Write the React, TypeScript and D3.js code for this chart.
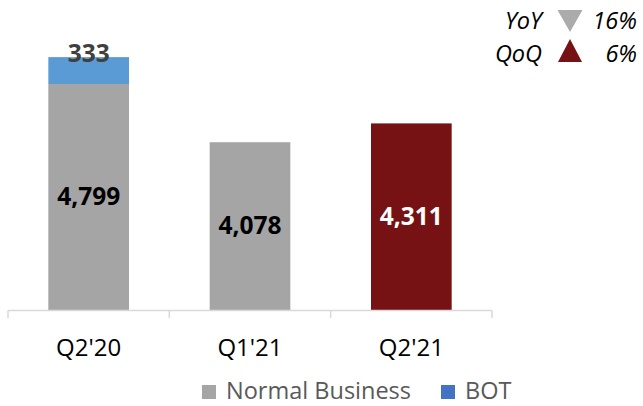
import React from "react";
import * as d3 from "d3";

const categories = ["Q2'20", "Q1'21", "Q2'21"];
const normalBusiness = [4799, 4078, 4311];
const bot = [333, 0, 0];
const highlight = [false, false, true];
const legendItems = ["Normal Business", "BOT"];
const changeLabels = ["YoY", "QoQ"];
const changeValues = ["16%", "6%"];
const changeDirections = ["down", "up"];

const W = 643;
const H = 406;
const GRAY = "#A5A5A5";
const BLUE = "#5B9BD5";
const LEGEND_BLUE = "#4472C4";
const RED = "#771214";
const FONT = "'Open Sans', sans-serif";

export default function App() {
  const x = d3
    .scaleBand<string>()
    .domain(categories)
    .range([8, 492])
    .paddingInner(0.5)
    .paddingOuter(0.25);
  const y = d3.scaleLinear().domain([2000, 5500]).range([310, 27.4]);
  const fmt = d3.format(",");
  const step = x.step();
  const [r0] = x.range();
  const boundaries = d3.range(categories.length + 1).map((i) => r0 + i * step);
  const baseY = y(2000);

  return (
    <svg
      width={W}
      height={H}
      style={{ position: "absolute", left: 0, top: 0, background: "#fff" }}
      fontFamily={FONT}
    >
      {categories.map((c, i) => {
        const bx = x(c)!;
        const bw = x.bandwidth();
        const cx = bx + bw / 2;
        const topN = y(normalBusiness[i]);
        const topB = y(normalBusiness[i] + bot[i]);
        return (
          <g key={c}>
            <rect
              x={bx}
              y={topN}
              width={bw}
              height={baseY - topN}
              fill={highlight[i] ? RED : GRAY}
            />
            {bot[i] > 0 && (
              <rect x={bx} y={topB} width={bw} height={topN - topB} fill={BLUE} />
            )}
            <text
              x={cx}
              y={(topN + baseY) / 2 + 8}
              textAnchor="middle"
              fontSize={24.5}
              fontWeight="bold"
              fill={highlight[i] ? "#FFFFFF" : "#000000"}
            >
              {fmt(normalBusiness[i])}
            </text>
            {bot[i] > 0 && (
              <text
                x={cx}
                y={topB + 5}
                textAnchor="middle"
                fontSize={24.5}
                fontWeight="bold"
                fill="#404040"
              >
                {fmt(bot[i])}
              </text>
            )}
            <text x={cx} y={356} textAnchor="middle" fontSize={24} fill="#000">
              {c}
            </text>
          </g>
        );
      })}
      <line x1={boundaries[0]} x2={boundaries[boundaries.length - 1]} y1={310.5} y2={310.5} stroke="#D9D9D9" strokeWidth={1.5} />
      {boundaries.map((b, i) => (
        <line key={i} x1={b} x2={b} y1={310.5} y2={318} stroke="#D9D9D9" strokeWidth={1.5} />
      ))}

      {/* bottom legend */}
      <rect x={202} y={385} width={14} height={14} fill={GRAY} />
      <text x={226} y={399} fontSize={23.5} fill="#595959">
        {legendItems[0]}
      </text>
      <rect x={441} y={385} width={14} height={14} fill={LEGEND_BLUE} />
      <text x={465} y={399} fontSize={23.5} fill="#595959">
        {legendItems[1]}
      </text>

      {/* top right change indicators */}
      {changeLabels.map((lab, i) => {
        const baseline = i === 0 ? 28.5 : 61.5;
        const cx = 570;
        const tri =
          changeDirections[i] === "down"
            ? `M${cx - 12.5},10 L${cx + 12.5},10 L${cx},32 Z`
            : `M${cx},39 L${cx + 12},62 L${cx - 12},62 Z`;
        return (
          <g key={lab}>
            <text x={542} y={baseline} textAnchor="end" fontSize={23.5} fontStyle="italic" fill="#000">
              {lab}
            </text>
            <path d={tri} fill={changeDirections[i] === "down" ? "#ABABAB" : RED} />
            <text x={637} y={baseline} textAnchor="end" fontSize={23.5} fontStyle="italic" fill="#000">
              {changeValues[i]}
            </text>
          </g>
        );
      })}
    </svg>
  );
}
